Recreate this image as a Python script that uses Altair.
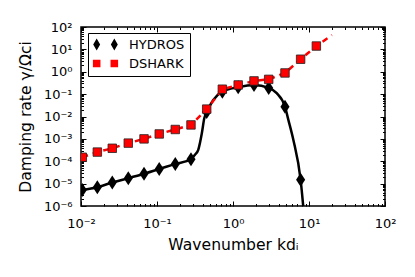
import altair as alt
import pandas as pd

FONT = "DejaVu Sans"

# ---- data ----
kd = [0.0104, 0.0164, 0.0258, 0.0419, 0.0675, 0.107, 0.174, 0.280,
      0.451, 0.724, 1.17, 1.89, 2.95, 4.83, 7.76, 12.5]
dshark_gamma = [1.51e-4, 2.57e-4, 3.8e-4, 6.46e-4, 1.0e-3, 1.66e-3, 2.63e-3, 4.2e-3,
                0.0214, 0.166, 0.257, 0.389, 0.457, 0.883, 3.63, 14.1]
hydros_kd = [0.0104, 0.0164, 0.0258, 0.0419, 0.0675, 0.107, 0.174, 0.280,
             0.451, 0.724, 1.17, 1.89, 2.95, 4.83, 7.76]
hydros_gamma = [5.25e-6, 6.9e-6, 1.12e-5, 1.74e-5, 2.75e-5, 4.47e-5, 7.59e-5, 1.23e-4,
                0.0158, 0.129, 0.204, 0.257, 0.19, 0.0275, 1.48e-5]

hydros_curve_kd = [0.0104, 0.0164, 0.0258, 0.0419, 0.0675, 0.107, 0.174, 0.280, 0.316,
                   0.349, 0.389, 0.419, 0.451, 0.55, 0.724, 1.17, 1.89, 2.95, 3.76,
                   4.83, 5.35, 6.22, 7.76, 8.9]
hydros_curve_gamma = [5.25e-6, 6.9e-6, 1.12e-5, 1.74e-5, 2.75e-5, 4.47e-5, 7.59e-5, 1.23e-4,
                      1.95e-4, 3.24e-4, 1.78e-3, 8.3e-3, 0.0158, 0.055, 0.129, 0.204, 0.257,
                      0.19, 0.11, 0.0275, 7.1e-3, 9.1e-4, 1.48e-5, 1e-7]

dshark_curve_kd = kd + [20.0]
dshark_curve_gamma = dshark_gamma + [43.7]

series = ["HYDROS", "DSHARK"]

x_major = [0.01, 0.1, 1, 10, 100]
y_major = [1e-6, 1e-5, 1e-4, 1e-3, 1e-2, 1e-1, 1, 10, 100]
x_labels = ["10⁻²", "10⁻¹", "10⁰", "10¹", "10²"]
y_labels = ["10⁻⁶", "10⁻⁵", "10⁻⁴", "10⁻³", "10⁻²", "10⁻¹", "10⁰", "10¹", "10²"]

x_ticks = [m * 10.0 ** e for e in range(-2, 2) for m in range(1, 10)] + [100.0]
y_ticks = [m * 10.0 ** e for e in range(-6, 2) for m in range(1, 10)] + [100.0]

df_hc = pd.DataFrame({"kd": hydros_curve_kd, "gamma": hydros_curve_gamma})
df_hm = pd.DataFrame({"kd": hydros_kd, "gamma": hydros_gamma})
df_dc = pd.DataFrame({"kd": dshark_curve_kd, "gamma": dshark_curve_gamma})
df_dm = pd.DataFrame({"kd": kd, "gamma": dshark_gamma})
df_leg = pd.DataFrame({"series": series})

W, H = 304, 179

x_scale = alt.Scale(type="log", domain=[0.01, 100])
y_scale = alt.Scale(type="log", domain=[1e-6, 100])

tick_size = {"condition": {"test": "abs(log(datum.value)/LN10 - round(log(datum.value)/LN10)) < 0.01",
                           "value": 5}, "value": 2.5}


def label_expr(labels, shift):
    arr = "[" + ",".join("'" + s + "'" for s in labels) + "]"
    return arr + "[round(log(datum.value)/LN10)+" + str(shift) + "]"


ax_x_labels = alt.Axis(orient="bottom", values=x_major, labelExpr=label_expr(x_labels, 2),
                       ticks=False, tickSize=0, domain=False, grid=False,
                       labelFont=FONT, labelFontSize=13, labelColor="black",
                       labelBaseline="alphabetic", labelPadding=21, labelFlush=False,
                       labelOverlap=False,
                       title="Wavenumber kdᵢ", titleFont=FONT, titleFontSize=15.6,
                       titleFontWeight="normal", titleColor="black",
                       titleBaseline="alphabetic", titleY=43, titleX=W / 2)
ax_y_labels = alt.Axis(orient="left", values=y_major, labelExpr=label_expr(y_labels, 6),
                       ticks=False, tickSize=0, domain=False, grid=False,
                       labelFont=FONT, labelFontSize=13, labelColor="black",
                       labelBaseline="middle", labelPadding=9, labelFlush=False,
                       labelOverlap=False,
                       title="Damping rate γ/Ωci", titleFont=FONT, titleFontSize=15.6,
                       titleFontWeight="normal", titleColor="black",
                       titleBaseline="alphabetic", titleAngle=270, titleX=-51, titleY=H / 2,
                       titleAlign="center")


def tick_axis(orient, vals, offset):
    return alt.Axis(orient=orient, values=vals, offset=offset, labels=False, domain=False,
                    grid=False, ticks=True, tickSize=tick_size, tickColor="black",
                    tickWidth=1, title=None)


DIAMOND = "M0,-1L0.65,0L0,1L-0.65,0Z"
LEG_DIAMONDS = "M-2.05,0L-1.47,-1L-0.89,0L-1.47,1Z M0.89,0L1.47,-1L2.05,0L1.47,1Z"
LEG_SQUARES = "M-2.1,-0.62H-0.84V0.62H-2.1Z M0.84,-0.62H2.1V0.62H0.84Z"

hyd_line = alt.Chart(df_hc).mark_line(color="black", strokeWidth=2.5, clip=True,
                                      interpolate="monotone").encode(
    x=alt.X("kd:Q", scale=x_scale, axis=ax_x_labels),
    y=alt.Y("gamma:Q", scale=y_scale, axis=ax_y_labels),
)
hyd_pts = alt.Chart(df_hm).mark_point(shape=DIAMOND, size=196, filled=True, color="black",
                                      opacity=1, clip=True).encode(
    x=alt.X("kd:Q", scale=x_scale, axis=tick_axis("top", x_ticks, -H)),
    y=alt.Y("gamma:Q", scale=y_scale, axis=tick_axis("right", y_ticks, -W)),
)
dsh_line = alt.Chart(df_dc).mark_line(color="#ff0000", strokeWidth=2.5, strokeDash=[6, 5],
                                      clip=True).encode(
    x=alt.X("kd:Q", scale=x_scale, axis=tick_axis("bottom", x_ticks, -H)),
    y=alt.Y("gamma:Q", scale=y_scale, axis=tick_axis("left", y_ticks, -W)),
)
dsh_pts = alt.Chart(df_dm).mark_point(shape="square", size=72, filled=True, fill="#ff0000",
                                      stroke="#222222", strokeWidth=0.8, opacity=1,
                                      clip=True).encode(
    x=alt.X("kd:Q", scale=x_scale, axis=None),
    y=alt.Y("gamma:Q", scale=y_scale, axis=None),
)

leg = alt.Legend(title=None, orient="none", legendX=7, legendY=6, direction="vertical",
                 padding=5, strokeColor="black", fillColor="white", symbolSize=144,
                 symbolOffset=6, labelOffset=17, labelFont=FONT, labelFontSize=13,
                 labelColor="black", rowPadding=4, symbolStrokeColor="black",
                 symbolStrokeWidth=0.8, cornerRadius=0)

legend_layer = alt.Chart(df_leg).transform_filter("false").mark_point(
    filled=True, opacity=1).encode(
    shape=alt.Shape("series:N", scale=alt.Scale(domain=series, range=[LEG_DIAMONDS, LEG_SQUARES]),
                    legend=leg),
    fill=alt.Fill("series:N", scale=alt.Scale(domain=series, range=["black", "#ff0000"]),
                  legend=leg),
)

chart = alt.layer(hyd_line, hyd_pts, dsh_line, dsh_pts, legend_layer).resolve_axis(
    x="independent", y="independent"
).properties(
    width=W, height=H,
    autosize=alt.AutoSizeParams(type="none"),
    padding={"left": 73, "top": 19, "right": 22, "bottom": 63},
    background="white",
).configure_view(stroke="black", strokeWidth=1.5)

chart.save("out.html", embed_options={"renderer": "svg", "actions": False})
